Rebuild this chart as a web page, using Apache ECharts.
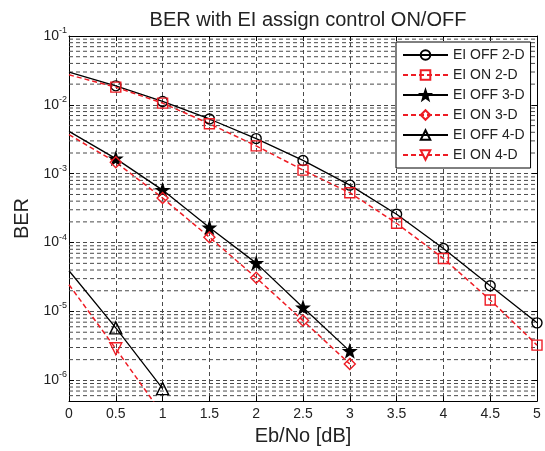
<!DOCTYPE html>
<html>
<head>
<meta charset="utf-8">
<script src="https://cdn.jsdelivr.net/npm/echarts@6/dist/echarts.min.js"></script>
<style>html,body{margin:0;padding:0;background:#fff;}#c{width:545px;height:451px;}</style>
</head>
<body>
<div id="c"></div>
<script>
const xValues = [0, 0.5, 1, 1.5, 2, 2.5, 3, 3.5, 4, 4.5, 5];
const xTickLabels = ['0', '0.5', '1', '1.5', '2', '2.5', '3', '3.5', '4', '4.5', '5'];
const offTwoD = [2.98e-2, 1.89e-2, 1.12e-2, 6.24e-3, 3.24e-3, 1.56e-3, 6.84e-4, 2.58e-4, 8.22e-5, 2.37e-5, 6.84e-6];
const onTwoD  = [2.73e-2, 1.81e-2, 1.06e-2, 5.33e-3, 2.54e-3, 1.13e-3, 5.30e-4, 1.91e-4, 5.89e-5, 1.47e-5, 3.25e-6];
const offThreeD = [4.13e-3, 1.66e-3, 5.79e-4, 1.66e-4, 5.04e-5, 1.14e-5, 2.66e-6];
const onThreeD  = [3.70e-3, 1.47e-3, 4.44e-4, 1.20e-4, 3.09e-5, 7.38e-6, 1.73e-6];
const offFourD = [3.90e-5, 5.78e-6, 7.59e-7];
const onFourD  = [2.45e-5, 2.88e-6, 3.20e-7];
const seriesNames = ['EI OFF 2-D', 'EI ON 2-D', 'EI OFF 3-D', 'EI ON 3-D', 'EI OFF 4-D', 'EI ON 4-D'];
const yMin = 5e-7, yMax = 1e-1;

const STAR = 'path://M0,-10L2.35,-3.24L9.51,-3.09L3.8,1.24L5.88,8.09L0,4.2L-5.88,8.09L-3.8,1.24L-9.51,-3.09L-2.35,-3.24Z';
const FONT = '"Liberation Sans", Arial, Helvetica, sans-serif';
const GRID_COLOR = '#4a4a4a';

function pts(ys) {
  return ys.map((y, i) => {
    const d = { value: [xValues[i], y] };
    if (i === 0) d.symbol = 'none';
    return d;
  });
}

function mk(name, ys, color, dashed, symbol, size, filled, rotate) {
  return {
    name: name,
    type: 'line',
    data: pts(ys),
    symbol: symbol,
    symbolSize: size,
    symbolRotate: rotate || 0,
    showAllSymbol: true,
    clip: true,
    z: 5,
    animation: false,
    lineStyle: { color: color, width: dashed ? 1.5 : 1.3, type: dashed ? [5, 3] : 'solid' },
    itemStyle: { color: filled ? color : 'rgba(0,0,0,0)', borderColor: color, borderWidth: 1.4 },
    emphasis: { disabled: true }
  };
}

// minor log grid lines (2..9 x 10^k), drawn as plain dashed lines across the plot
const minorSeries = [];
for (let k = -7; k <= -2; k++) {
  for (let m = 2; m <= 9; m++) {
    const v = m * Math.pow(10, k);
    if (v > yMin * 1.0001 && v < yMax) {
      minorSeries.push({
        type: 'line', silent: true, animation: false, z: 1,
        symbol: 'none',
        data: [[xValues[0], v], [xValues[xValues.length - 1], v]],
        lineStyle: { color: GRID_COLOR, type: [4, 3], width: 1 },
        emphasis: { disabled: true }
      });
    }
  }
}

const chart = echarts.init(document.getElementById('c'), null, { renderer: 'canvas' });
chart.setOption({
  backgroundColor: '#fff',
  animation: false,
  textStyle: { fontFamily: FONT },
  title: {
    text: 'BER with EI assign control ON/OFF',
    left: 303, top: 5, textAlign: 'center',
    textStyle: { fontFamily: FONT, fontSize: 20, fontWeight: 'normal', color: '#222' }
  },
  grid: { left: 69, right: 8, top: 36, bottom: 48, containLabel: false },
  legend: {
    data: seriesNames,
    orient: 'vertical',
    left: 396, top: 42,
    padding: [6, 6, 6, 6],
    itemWidth: 45, itemHeight: 12, itemGap: 6,
    backgroundColor: '#fff',
    borderColor: '#000', borderWidth: 1,
    borderRadius: 0,
    align: 'left',
    textStyle: { fontFamily: FONT, fontSize: 14, color: '#222' },
    selectedMode: false
  },
  xAxis: [{
    type: 'value', min: 0, max: 5, interval: 0.5, position: 'bottom',
    name: 'Eb/No [dB]', nameLocation: 'middle', nameGap: 21,
    nameTextStyle: { fontFamily: FONT, fontSize: 20, color: '#222' },
    axisLine: { show: true, onZero: false, lineStyle: { color: '#000', width: 1 } },
    axisTick: { show: true, inside: true, length: 5, lineStyle: { color: '#000' } },
    axisLabel: { fontFamily: FONT, fontSize: 14, color: '#222', margin: 6,
      formatter: function (v) { const i = xValues.indexOf(v); return i >= 0 ? xTickLabels[i] : ''; } },
    splitLine: { show: true, lineStyle: { color: GRID_COLOR, type: [4, 3], width: 1 } }
  }, {
    type: 'value', min: 0, max: 5, interval: 0.5, position: 'top',
    axisLine: { show: true, onZero: false, lineStyle: { color: '#000', width: 1 } },
    axisTick: { show: true, inside: true, length: 5, lineStyle: { color: '#000' } },
    axisLabel: { show: false }, splitLine: { show: false }
  }],
  yAxis: [{
    type: 'log', logBase: 10, min: yMin, max: yMax, position: 'left',
    name: 'BER', nameLocation: 'middle', nameGap: 37, nameRotate: 90,
    nameTextStyle: { fontFamily: FONT, fontSize: 20, color: '#222' },
    axisLine: { show: true, onZero: false, lineStyle: { color: '#000', width: 1 } },
    axisTick: { show: true, inside: true, length: 5, lineStyle: { color: '#000' } },
    axisLabel: {
      margin: 2,
      formatter: function (v) {
        const e = Math.log10(v); const r = Math.round(e);
        if (Math.abs(e - r) > 1e-6) return '';
        return '{b|10}{s|' + r + '}';
      },
      rich: {
        b: { fontFamily: FONT, fontSize: 14, color: '#222', lineHeight: 14, verticalAlign: 'middle' },
        s: { fontFamily: FONT, fontSize: 9, color: '#222', lineHeight: 9, padding: [0, 0, 11, 0], verticalAlign: 'middle' }
      }
    },
    splitLine: { show: true, lineStyle: { color: GRID_COLOR, type: [4, 3], width: 1 } }
  }, {
    type: 'log', logBase: 10, min: yMin, max: yMax, position: 'right',
    axisLine: { show: true, onZero: false, lineStyle: { color: '#000', width: 1 } },
    axisTick: { show: true, inside: true, length: 5, lineStyle: { color: '#000' } },
    axisLabel: { show: false }, splitLine: { show: false }
  }],
  series: minorSeries.concat([
    mk(seriesNames[0], offTwoD, '#000', false, 'circle', 10, false),
    mk(seriesNames[1], onTwoD, '#ee1c24', true, 'rect', 10, false),
    mk(seriesNames[2], offThreeD, '#000', false, STAR, 12, true),
    mk(seriesNames[3], onThreeD, '#ee1c24', true, 'diamond', 11, false),
    mk(seriesNames[4], offFourD, '#000', false, 'triangle', 12, false),
    mk(seriesNames[5], onFourD, '#ee1c24', true, 'triangle', 12, false, 180)
  ])
});
</script>
</body>
</html>
